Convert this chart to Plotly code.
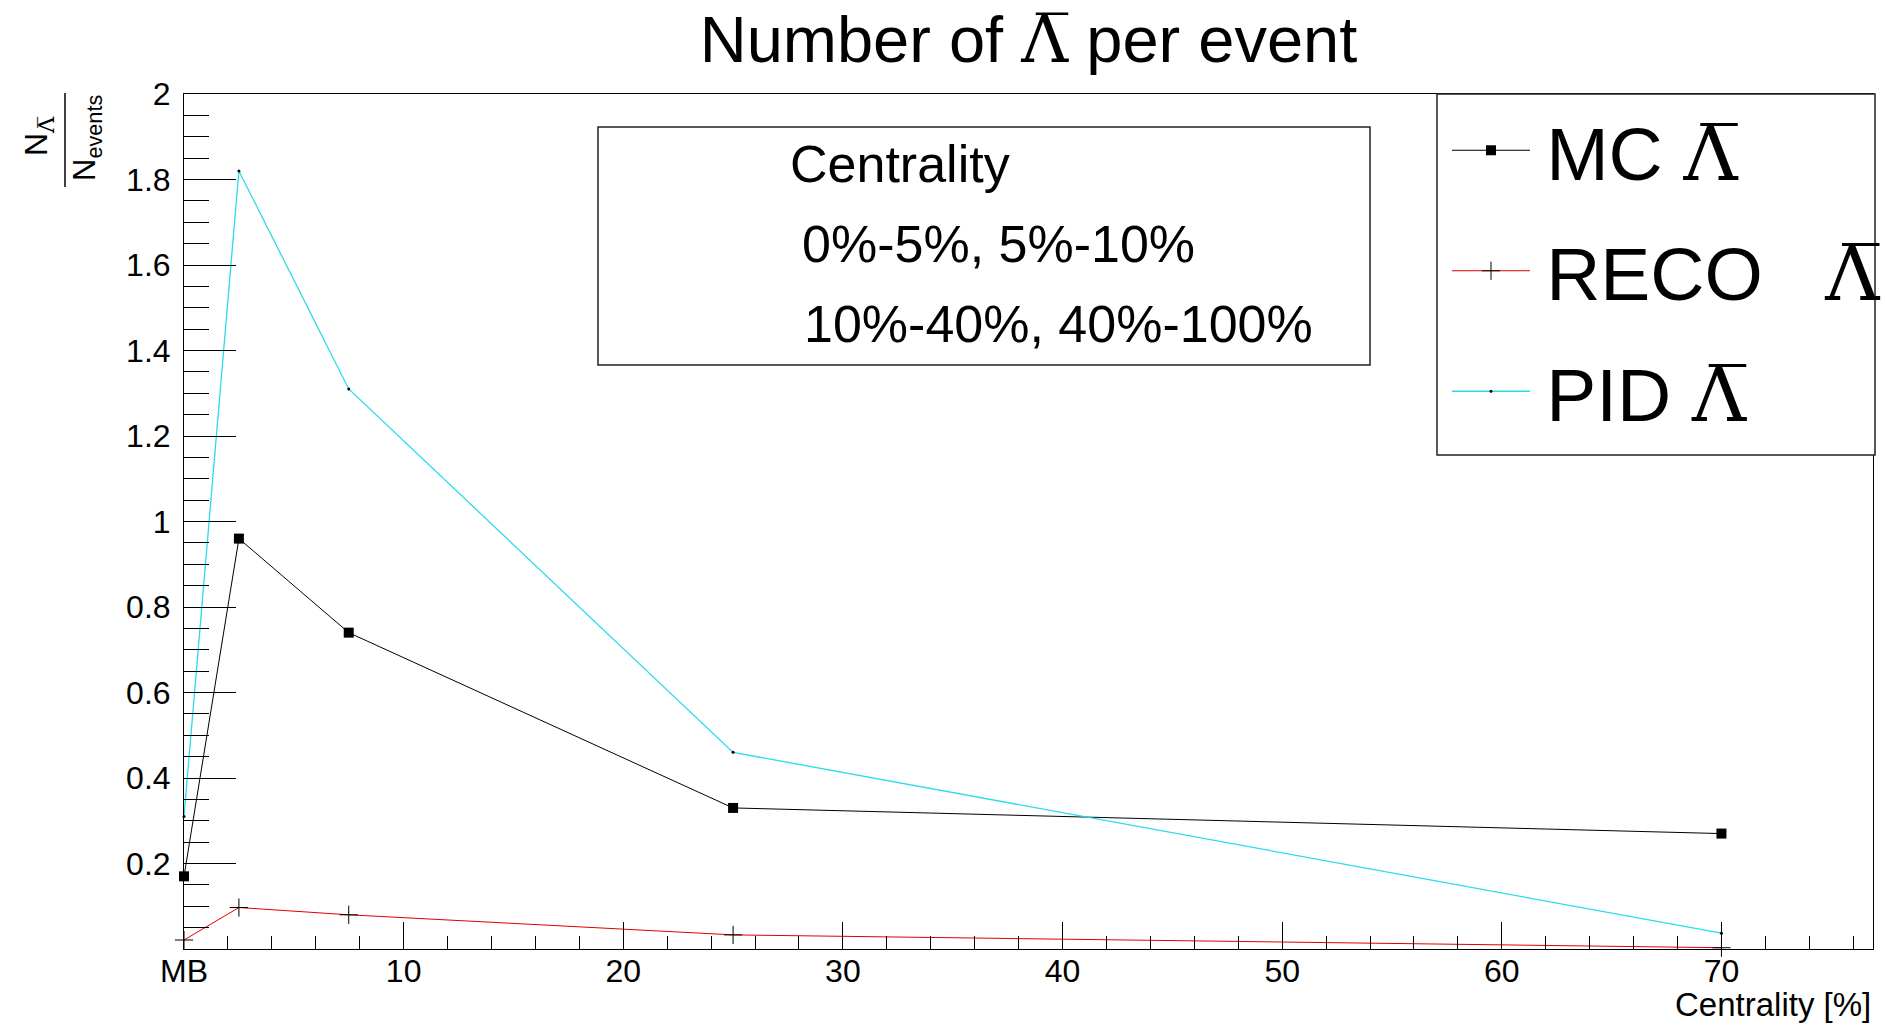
import plotly.graph_objects as go

# ---- data ---------------------------------------------------------------
centrality = [0.0, 2.5, 7.5, 25.0, 70.0]          # MB, 0-5%, 5-10%, 10-40%, 40-100%
mc_lambda_bar = [0.17, 0.96, 0.74, 0.33, 0.27]
reco_lambda_bar = [0.021, 0.097, 0.080, 0.033, 0.003]
pid_lambda_bar = [0.31, 1.82, 1.31, 0.46, 0.037]

x_tick_vals = [0, 10, 20, 30, 40, 50, 60, 70]
x_tick_text = ["MB", "10", "20", "30", "40", "50", "60", "70"]
y_tick_vals = [0.2, 0.4, 0.6, 0.8, 1.0, 1.2, 1.4, 1.6, 1.8, 2.0]
y_tick_text = ["0.2", "0.4", "0.6", "0.8", "1", "1.2", "1.4", "1.6", "1.8", "2"]

# ---- canvas / frame geometry (pixels) -----------------------------------
W, H = 1885, 1026
L, R, T, B = 184, 1873, 94, 949

SANS = "Liberation Sans"
# anti-lambda: serif capital lambda with a combining overline
LAMBDA_BAR = '<span style="font-family:DejaVu Serif">\u039b\u0305</span>'
LEG_GAP = '<span style="font-size:40px">\u00a0</span>'


def fx(px):
    return (px - L) / (R - L)


def fy(py):
    return (B - py) / (B - T)


fig = go.Figure()

fig.add_trace(go.Scatter(
    x=centrality, y=mc_lambda_bar, mode="lines+markers",
    name=f"{LEG_GAP}MC {LAMBDA_BAR}", legendgroup="mc",
    line=dict(color="black", width=1),
    marker=dict(symbol="square", size=10, color="black"),
    cliponaxis=False,
))
fig.add_trace(go.Scatter(
    x=centrality, y=reco_lambda_bar, mode="lines+markers",
    name=f"{LEG_GAP}RECO \u00a0 {LAMBDA_BAR}", legendgroup="reco",
    line=dict(color="#e00000", width=1),
    marker=dict(symbol="cross-thin", size=13, color="black",
                line=dict(color="black", width=1)),
    cliponaxis=False,
))
fig.add_trace(go.Scatter(
    x=centrality, y=pid_lambda_bar, mode="lines+markers",
    name=f"{LEG_GAP}PID {LAMBDA_BAR}", legendgroup="pid",
    line=dict(color="#2adbea", width=1.3),
    marker=dict(symbol="circle", size=3, color="black"),
    cliponaxis=False,
))

axis_common = dict(
    showline=True, linecolor="black", linewidth=1, mirror=True,
    showgrid=False, zeroline=False,
    ticks="inside", tickcolor="black", tickwidth=1,
    tickfont=dict(family=SANS, size=32, color="black"),
)

fig.update_xaxes(
    range=[0, 76.9], tickmode="array", tickvals=x_tick_vals, ticktext=x_tick_text,
    ticklen=27, ticklabelstandoff=-6,
    minor=dict(tickmode="linear", tick0=0, dtick=2, ticks="inside",
               ticklen=13, tickcolor="black", tickwidth=1),
    **axis_common,
)
fig.update_yaxes(
    range=[0, 2], tickmode="array", tickvals=y_tick_vals, ticktext=y_tick_text,
    ticklen=52, ticklabelstandoff=6,
    minor=dict(tickmode="linear", tick0=0, dtick=0.05, ticks="inside",
               ticklen=25, tickcolor="black", tickwidth=1),
    **axis_common,
)

annotations = [
    # x-axis title, right-aligned to the frame
    dict(text="Centrality [%]", x=1.0, y=fy(1004), xanchor="right", yanchor="middle",
         font=dict(family=SANS, size=33, color="black")),
    # y-axis title as a rotated fraction
    dict(text=f"N<sub>{LAMBDA_BAR}</sub>", x=fx(38), y=fy(136), textangle=-90,
         xanchor="center", yanchor="middle",
         font=dict(family=SANS, size=32, color="black")),
    dict(text="N<sub>events</sub>", x=fx(87), y=fy(138), textangle=-90,
         xanchor="center", yanchor="middle",
         font=dict(family=SANS, size=31, color="black")),
    # centrality class box
    dict(text="Centrality", x=fx(788), y=fy(164), xanchor="left", yanchor="middle",
         font=dict(family=SANS, size=52, color="black")),
    dict(text="0%-5%, 5%-10%", x=fx(800), y=fy(244), xanchor="left", yanchor="middle",
         font=dict(family=SANS, size=52, color="black")),
    dict(text="10%-40%, 40%-100%", x=fx(802), y=fy(324), xanchor="left", yanchor="middle",
         font=dict(family=SANS, size=52, color="black")),
]
for a in annotations:
    a.update(xref="paper", yref="paper", showarrow=False)

shapes = [
    # y-axis title fraction bar
    dict(type="line", xref="paper", yref="paper",
         x0=fx(65), x1=fx(65), y0=fy(93), y1=fy(187),
         line=dict(color="black", width=1.5)),
    # centrality text box
    dict(type="rect", xref="paper", yref="paper",
         x0=fx(598), x1=fx(1370), y0=fy(365), y1=fy(127),
         line=dict(color="#222", width=1.5), fillcolor="white", layer="above"),
    # legend box
    dict(type="rect", xref="paper", yref="paper",
         x0=fx(1437), x1=fx(1875), y0=fy(455), y1=fy(94),
         line=dict(color="#222", width=1.5), fillcolor="white", layer="above"),
]

fig.update_layout(
    width=W, height=H,
    margin=dict(l=L, r=W - R, t=T, b=H - B, autoexpand=False),
    paper_bgcolor="white", plot_bgcolor="white",
    title=dict(text=f"Number of {LAMBDA_BAR} per event",
               x=0.5, xref="paper", xanchor="center",
               y=1 - 39 / H, yref="container", yanchor="middle",
               font=dict(family=SANS, size=65, color="black")),
    legend=dict(
        x=fx(1447), y=fy(95), xanchor="left", yanchor="top",
        bgcolor="rgba(0,0,0,0)", borderwidth=0,
        font=dict(family=SANS, size=75, color="black"),
        itemwidth=78, tracegroupgap=20, traceorder="grouped",
    ),
    annotations=annotations,
    shapes=shapes,
    showlegend=True,
)

fig.write_html("out.html")
